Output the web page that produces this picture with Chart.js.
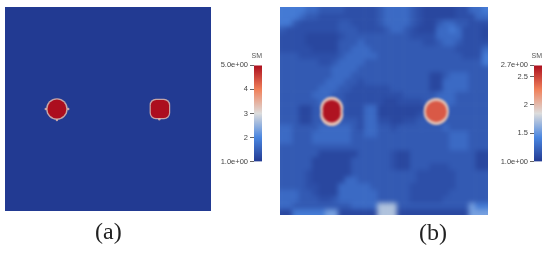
<!DOCTYPE html>
<html>
<head>
<meta charset="utf-8">
<script src="https://cdn.jsdelivr.net/npm/chart.js@4"></script>
<style>
html,body{margin:0;padding:0;background:#fff;}
body{width:550px;height:253px;overflow:hidden;position:relative;}
canvas{position:absolute;}
.panel{position:absolute;overflow:hidden;}
#panelB{left:280px;top:7px;width:208px;height:208px;}
#fieldA{left:5px;top:7px;filter:blur(.5px);}
#fieldB{left:-7px;top:-7px;filter:blur(2.8px);}
#spotsB{left:0;top:0;filter:blur(.9px);}
#barA{left:215px;top:46px;filter:blur(.35px);}
#barB{left:495px;top:46px;filter:blur(.35px);}
.caption{position:absolute;font:24px "Liberation Serif",serif;color:#222;filter:blur(.3px);}
</style>
</head>
<body>
<canvas id="fieldA" width="206" height="204"></canvas>
<div class="panel" id="panelB">
<canvas id="fieldB" width="222" height="222"></canvas>
<canvas id="spotsB" width="208" height="208"></canvas>
</div>
<canvas id="barA" width="47" height="122"></canvas>
<canvas id="barB" width="47" height="122"></canvas>
<div class="caption" style="left:95px;top:218px">(a)</div>
<div class="caption" style="left:419px;top:219px">(b)</div>
<script>
// SM value of each level used in the grid rows below
const levelsA=[1.0];
const levelsB=[1.07,1.12,1.18,1.27,1.36,1.55,1.72];

// panel (a) is one uniform cell
const gridA=["0"];

// panel (b), top row first, one digit per cell
const gridB=[
"44443322221111123333210000011334",
"44432211111111123333210000011133",
"44211111122111123333210023322111",
"21111111122211112332100033431110",
"11110000012222222222111133331110",
"11110000022232222222221123321111",
"11111000022333222222222222211113",
"22211111123333322222222222221114",
"22222211233332222222222222222224",
"22222222333322222222222222222222",
"22222222333222222222222002333222",
"22222223332212222222222003333222",
"22222233322111111222222003333222",
"22222333221111111112222233322222",
"22222233221111110011112233322222",
"22200222221113300000000233222222",
"22200222221113300000012222222222",
"22200222222213311001122222222222",
"33222233333213322122222223222222",
"33222333333223322222222222333222",
"33222333333222222222222222333222",
"22222222222222222222222222333222",
"22222200000022222100222222222200",
"22222000000222222100222222222200",
"22222000000222222100222111222200",
"22221000000222222222211111122222",
"22221000003322222222211111122222",
"22221100033333222222111111122222",
"33322100033333322222111111222222",
"33322211233333322222111112222222",
"33222222222333366622222222222544",
"00444445500000066600000000000555"
];

// colour bars: range, tick values and the text printed at them
const rangeA=[1,5];
const ticksA=[1,2,3,4,5];
const tickLabelsA=["1.0e+00","2","3","4","5.0e+00"];
const rangeB=[1,2.7];
const ticksB=[1,1.5,2,2.5,2.7];
const tickLabelsB=["1.0e+00","1.5","2","2.5","2.7e+00"];
const barTitle="SM";

// inclusions, x and y as fractions of the panel, value in SM
const leftAx=[0.252];
const leftAy=[0.5];
const rightAx=[0.752];
const rightAy=[0.5];
const nubAx=[0.198,0.307,0.252,0.749];
const nubAy=[0.5,0.5,0.554,0.55];
const ringA=3.4;
const coreA=5;

const haloLeftBx=[0.2485,0.2485];
const haloLeftBy=[0.487,0.517];
const coreLeftBx=[0.2485,0.2485];
const coreLeftBy=[0.49,0.512];
const haloRightBx=[0.751,0.751];
const haloRightBy=[0.497,0.507];
const coreRightBx=[0.751];
const coreRightBy=[0.502];
const haloB=1.98;
const coreLeftB=2.68;
const coreRightB=2.42;

// colour map stops, position along the bar
const mapStops=[0,0.25,0.5,0.75,1];
const mapColors=[[34,58,146],[74,134,224],[220,220,220],[240,128,90],[172,14,30]];

const colorAt=(t,alpha=1)=>{
    let i=0;
    while(i<mapStops.length-2 && t>mapStops[i+1]) i++;
    const f=(t-mapStops[i])/(mapStops[i+1]-mapStops[i]);
    const c=mapColors[i].map((v,k)=>Math.round(v+(mapColors[i+1][k]-v)*f));
    return `rgba(${c[0]},${c[1]},${c[2]},${alpha})`;
};
const toT=(v,range)=>(v-range[0])/(range[1]-range[0]);

const layer=(xs,ys,v,range,radius,style,alpha)=>({
    type:'bubble',
    xAxisID:'x',
    yAxisID:'y',
    data:xs.map((x,i)=>({x:x,y:ys[i],r:radius})),
    backgroundColor:colorAt(toT(v,range),alpha),
    pointStyle:style||'circle',
    borderWidth:0
});

// repeats the edge cells so the blur does not fade out at the panel border
const padGrid=(grid)=>{
    const rows=grid.map(row=>row[0]+row+row[row.length-1]);
    return [rows[0]].concat(rows,[rows[rows.length-1]]);
};

const makeField=(id,grid,levels,range,layers)=>{
    const rows=grid.length;
    const labels=[];
    for(let c=0;c<(rows?grid[0].length:0);c++) labels.push(c);
    const cells=grid.map((row,r)=>({
        type:'bar',
        xAxisID:'xc',
        yAxisID:'y',
        data:labels.map(()=>[r/rows,(r+1)/rows]),
        backgroundColor:labels.map(c=>colorAt(toT(levels[+row[c]],range))),
        barPercentage:1,
        categoryPercentage:1,
        grouped:false
    }));
    new Chart(document.getElementById(id),{
        data:{labels:labels,datasets:layers.concat(cells)},
        options:{
            responsive:false,
            animation:false,
            layout:{autoPadding:false,padding:0},
            plugins:{legend:{display:false},tooltip:{enabled:false}},
            scales:{
                xc:{type:'category',offset:true,display:false},
                x:{type:'linear',min:0,max:1,display:false},
                y:{type:'linear',min:0,max:1,reverse:true,display:false}
            }
        }
    });
};

const makeBar=(id,range,ticks,tickLabels)=>{
    new Chart(document.getElementById(id),{
        type:'bar',
        data:{
            labels:[barTitle],
            datasets:[{
                data:[range],
                barPercentage:1,
                categoryPercentage:1,
                backgroundColor:(ctx)=>{
                    const area=ctx.chart.chartArea;
                    if(!area) return null;
                    const g=ctx.chart.ctx.createLinearGradient(0,area.bottom,0,area.top);
                    mapStops.forEach((s)=>g.addColorStop(s,colorAt(s)));
                    return g;
                }
            }]
        },
        options:{
            responsive:false,
            animation:false,
            layout:{autoPadding:false,padding:{bottom:6}},
            plugins:{
                legend:{display:false},
                tooltip:{enabled:false},
                title:{
                    display:true,
                    text:barTitle,
                    align:'end',
                    color:'#555',
                    font:{family:'"Liberation Sans"',size:7,weight:'normal'},
                    padding:{top:6,bottom:5}
                }
            },
            scales:{
                x:{display:false},
                y:{
                    min:range[0],
                    max:range[1],
                    afterBuildTicks:(axis)=>{axis.ticks=ticks.map(v=>({value:v}));},
                    afterFit:(axis)=>{axis.width=39;},
                    ticks:{
                        autoSkip:false,
                        padding:2,
                        color:'#444',
                        font:{family:'"Liberation Sans"',size:7.5},
                        callback:(v)=>tickLabels[ticks.indexOf(v)]
                    },
                    grid:{drawOnChartArea:false,tickLength:4,color:'#666'},
                    border:{display:false}
                }
            }
        }
    });
};

makeField("fieldA",gridA,levelsA,rangeA,[
    layer(leftAx,leftAy,coreA,rangeA,9.4),
    layer(rightAx,rightAy,coreA,rangeA,10.6,'rectRounded'),
    layer(leftAx,leftAy,ringA,rangeA,10.8,'circle',0.85),
    layer(rightAx,rightAy,ringA,rangeA,12,'rectRounded',0.85),
    layer(nubAx,nubAy,ringA,rangeA,1.2,'circle',0.85)
]);
makeField("fieldB",padGrid(gridB),levelsB,rangeB,[]);
makeField("spotsB",[],levelsB,rangeB,[
    layer(coreLeftBx,coreLeftBy,coreLeftB,rangeB,9),
    layer(coreRightBx,coreRightBy,coreRightB,rangeB,10.5),
    layer(haloLeftBx,haloLeftBy,haloB,rangeB,11.5),
    layer(haloRightBx,haloRightBy,haloB,rangeB,12.5)
]);
makeBar("barA",rangeA,ticksA,tickLabelsA);
makeBar("barB",rangeB,ticksB,tickLabelsB);
</script>
</body>
</html>
